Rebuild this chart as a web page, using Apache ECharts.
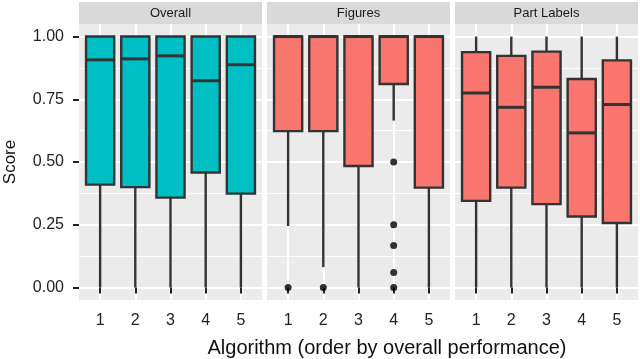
<!DOCTYPE html>
<html>
<head>
<meta charset="utf-8">
<script src="https://cdn.jsdelivr.net/npm/echarts@6/dist/echarts.min.js"></script>
<style>
  html, body { margin: 0; padding: 0; background: #fff; }
  #chart { width: 640px; height: 359px; }
</style>
</head>
<body>
<div id="chart"></div>
<script>
var facets = ['Overall', 'Figures', 'Part Labels'];
var algorithms = [1, 2, 3, 4, 5];
// each row: [lower whisker, Q1, median, Q3, upper whisker]
var overallBoxes = [
  [0, 0.41, 0.907, 1, 1],
  [0, 0.40, 0.911, 1, 1],
  [0, 0.358, 0.923, 1, 1],
  [0, 0.458, 0.824, 1, 1],
  [0, 0.374, 0.888, 1, 1]
];
var figuresBoxes = [
  [0.245, 0.623, 1, 1, 1],
  [0.081, 0.623, 1, 1, 1],
  [0, 0.484, 1, 1, 1],
  [0.665, 0.811, 1, 1, 1],
  [0, 0.398, 1, 1, 1]
];
var partLabelBoxes = [
  [0, 0.345, 0.775, 0.938, 1],
  [0, 0.398, 0.718, 0.923, 1],
  [0, 0.332, 0.798, 0.94, 1],
  [0, 0.283, 0.616, 0.831, 1],
  [0, 0.257, 0.729, 0.905, 1]
];
// outliers [algorithm, score]
var figuresOutliers = [[1, 0], [2, 0], [4, 0.5], [4, 0.25], [4, 0.167], [4, 0.06], [4, 0]];
var yTicks = [0, 0.25, 0.5, 0.75, 1];
var yMinorTicks = [0.125, 0.375, 0.625, 0.875];

var boxSets = [overallBoxes, figuresBoxes, partLabelBoxes];
var fills = ['#00BFC4', '#F8766D', '#F8766D'];
var lefts = [79, 267, 455];
var panelW = 183, panelTop = 24, panelH = 276;

var myChart = echarts.init(document.getElementById('chart'));

function renderBox(fill) {
  return function (params, api) {
    var x = api.value(0);
    var lo = api.coord([x, api.value(1)]);
    var q1 = api.coord([x, api.value(2)]);
    var med = api.coord([x, api.value(3)]);
    var q3 = api.coord([x, api.value(4)]);
    var hi = api.coord([x, api.value(5)]);
    var half = api.size([0.8, 0])[0] / 2;
    var ink = '#333333';
    return {
      type: 'group',
      children: [
        { type: 'line', shape: { x1: lo[0], y1: lo[1], x2: q1[0], y2: q1[1] }, style: { stroke: ink, lineWidth: 2.4 } },
        { type: 'line', shape: { x1: q3[0], y1: q3[1], x2: hi[0], y2: hi[1] }, style: { stroke: ink, lineWidth: 2.4 } },
        { type: 'rect', shape: { x: q3[0] - half, y: q3[1], width: half * 2, height: q1[1] - q3[1] },
          style: { fill: fill, stroke: ink, lineWidth: 2.4 } },
        { type: 'line', shape: { x1: med[0] - half, y1: med[1], x2: med[0] + half, y2: med[1] }, style: { stroke: ink, lineWidth: 3 } }
      ]
    };
  };
}

var grids = [], xAxes = [], yAxes = [], series = [], graphics = [];
facets.forEach(function (name, i) {
  grids.push({ left: lefts[i], top: panelTop, width: panelW, height: panelH,
    show: true, backgroundColor: '#EBEBEB', borderWidth: 0, containLabel: false, outerBoundsMode: 'none' });
  xAxes.push({
    type: 'value', gridIndex: i, min: 0.4, max: 5.6,
    axisLine: { show: false },
    axisTick: { show: true, length: 6, customValues: algorithms, lineStyle: { color: '#222', width: 2 } },
    axisLabel: { show: true, customValues: algorithms, margin: 13, fontSize: 16, color: '#222', fontFamily: 'Liberation Sans' },
    splitLine: { show: true, lineStyle: { color: '#fff', width: 2 } }
  });
  yAxes.push({
    type: 'value', gridIndex: i, min: -0.05, max: 1.05,
    name: i === 0 ? 'Score' : '', nameLocation: 'middle', nameGap: 60,
    nameTextStyle: { fontSize: 17, color: '#111', fontFamily: 'Liberation Sans' },
    axisLine: { show: false },
    axisTick: { show: i === 0, length: 6, customValues: yTicks, lineStyle: { color: '#222', width: 2 } },
    axisLabel: { show: i === 0, customValues: yTicks, margin: 15, fontSize: 16, color: '#222', fontFamily: 'Liberation Sans',
      formatter: function (v) { return v.toFixed(2); } },
    splitLine: { show: true, lineStyle: { color: '#fff', width: 2 } }
  });
  series.push({
    type: 'custom', name: name, xAxisIndex: i, yAxisIndex: i,
    renderItem: renderBox(fills[i]),
    encode: { x: 0, y: [1, 2, 3, 4, 5] },
    data: boxSets[i].map(function (b, k) { return [algorithms[k]].concat(b); })
  });
  graphics.push({ type: 'rect', left: lefts[i], top: 2, shape: { width: panelW, height: 22 }, style: { fill: '#D9D9D9' } });
  graphics.push({ type: 'text', x: lefts[i] + panelW / 2, y: 13,
    style: { text: name, fill: '#1A1A1A', font: '13px "Liberation Sans"', align: 'center', verticalAlign: 'middle' } });
});
// minor horizontal grid lines
facets.forEach(function (name, i) {
  yAxes.push({
    type: 'value', gridIndex: i, min: -0.05, max: 1.05,
    axisLine: { show: false }, axisLabel: { show: false },
    axisTick: { show: false, customValues: yMinorTicks },
    splitLine: { show: true, lineStyle: { color: '#fff', width: 1 } }
  });
});
series.push({
  type: 'scatter', xAxisIndex: 1, yAxisIndex: 1, symbolSize: 7, z: 5,
  itemStyle: { color: '#000' }, data: figuresOutliers
});
graphics.push({ type: 'text', x: 387, y: 348,
  style: { text: 'Algorithm (order by overall performance)', fill: '#111', font: '20px "Liberation Sans"', align: 'center', verticalAlign: 'middle' } });

option = {
  animation: false,
  grid: grids,
  xAxis: xAxes,
  yAxis: yAxes,
  series: series,
  graphic: graphics
};
myChart.setOption(option);
</script>
</body>
</html>
